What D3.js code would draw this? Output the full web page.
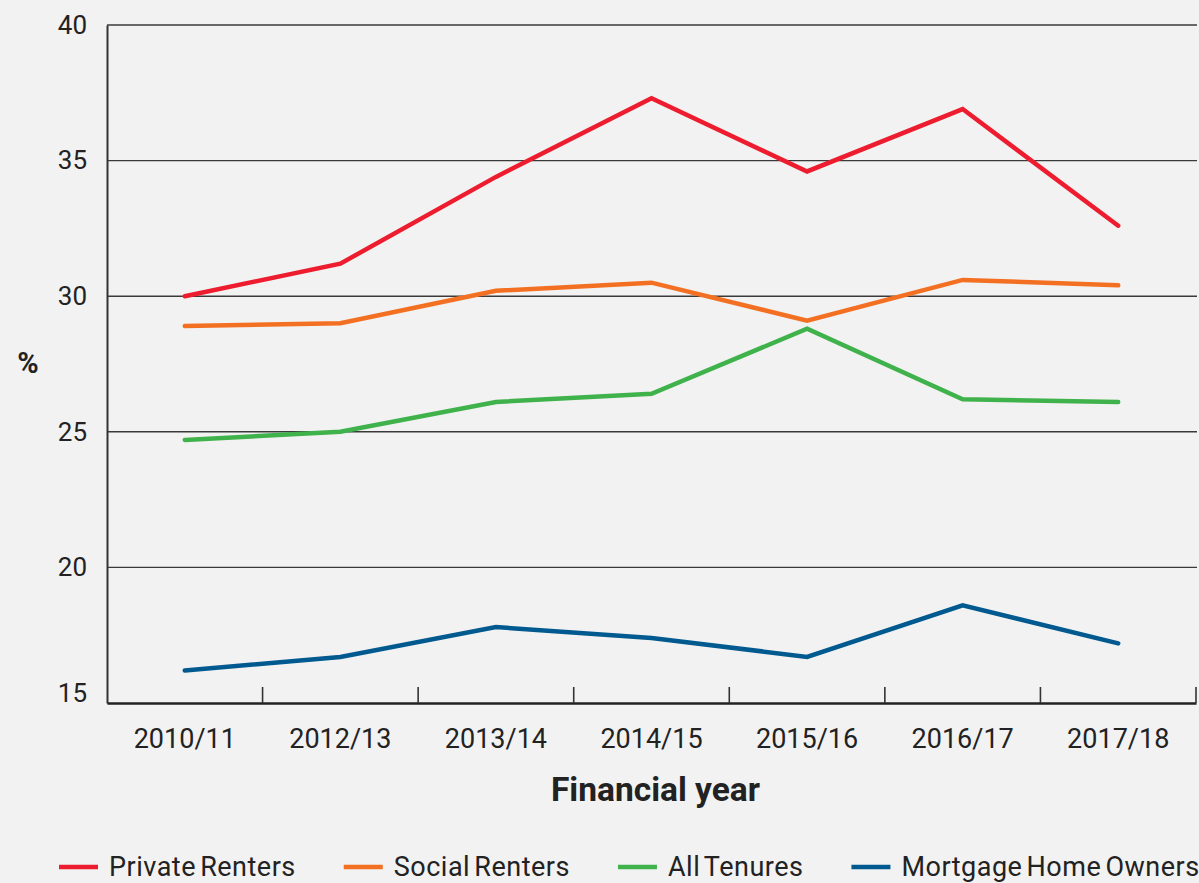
<!DOCTYPE html>
<html>
<head>
<meta charset="utf-8">
<script src="https://cdn.jsdelivr.net/npm/d3@7"></script>
<style>
  html, body { margin: 0; padding: 0; background: #f2f2f2; }
  svg { display: block; font-family: Roboto, "Noto Sans", sans-serif; }
</style>
</head>
<body>
<svg id="chart" width="1199" height="883"></svg>
<script>
// Financial years on the x axis
const years = ["2010/11", "2012/13", "2013/14", "2014/15", "2015/16", "2016/17", "2017/18"];

// Percentages by tenure type
const privateRenters = [30.0, 31.2, 34.4, 37.3, 34.6, 36.9, 32.6];
const socialRenters = [28.9, 29.0, 30.2, 30.5, 29.1, 30.6, 30.4];
const allTenures = [24.7, 25.0, 26.1, 26.4, 28.8, 26.2, 26.1];
const mortgageOwners = [16.2, 16.7, 17.8, 17.4, 16.7, 18.6, 17.2];

const seriesNames = ["Private Renters", "Social Renters", "All Tenures", "Mortgage Home Owners"];
const seriesColors = ["#ed1c2e", "#f37022", "#3fb24b", "#00598f"];
const yTicks = [15, 20, 25, 30, 35, 40];

const series = [privateRenters, socialRenters, allTenures, mortgageOwners].map((values, i) => ({
  name: seriesNames[i],
  color: seriesColors[i],
  values: values.map((v, j) => ({ year: years[j], value: v }))
}));

const svg = d3.select("#chart");
const plotLeft = 107, plotRight = 1196, plotTop = 25, plotBottom = 703;

const x = d3.scaleBand().domain(years).range([plotLeft, plotRight]).paddingInner(0).paddingOuter(0);
const y = d3.scaleLinear().domain([15, 40]).range([plotBottom, plotTop]);
const cx = d => x(d) + x.bandwidth() / 2;

// Horizontal gridlines
svg.append("g")
  .selectAll("line")
  .data(yTicks.filter(t => t > 15))
  .join("line")
  .attr("x1", plotLeft).attr("x2", plotRight + 1)
  .attr("y1", d => y(d)).attr("y2", d => y(d))
  .attr("stroke", "#3a3a3a")
  .attr("stroke-width", 1.4);

// Y axis: line plus labels
const yAxis = svg.append("g")
  .attr("transform", `translate(${plotLeft},0)`)
  .call(d3.axisLeft(y).tickValues(yTicks).tickSize(0).tickPadding(20));
yAxis.select(".domain").attr("stroke", "#333").attr("stroke-width", 2);
yAxis.selectAll("text")
  .attr("font-size", 26)
  .attr("fill", "#222")
  .attr("font-family", "Roboto, sans-serif");
// the bottom label sits just above the baseline
yAxis.selectAll(".tick").filter(d => d === 15).select("text").attr("dy", "0.32em").attr("y", -10);

// X axis: baseline with inward ticks at band boundaries
const xAxis = svg.append("g")
  .attr("transform", `translate(0,${plotBottom})`)
  .call(d3.axisBottom(x).tickSize(0).tickPadding(26));
xAxis.select(".domain").attr("stroke", "#222").attr("stroke-width", 2.5);
xAxis.selectAll("text")
  .attr("font-size", 27)
  .attr("fill", "#222")
  .attr("font-family", "Roboto, sans-serif");

svg.append("g")
  .selectAll("line")
  .data(years)
  .join("line")
  .attr("x1", d => x(d) + x.bandwidth()).attr("x2", d => x(d) + x.bandwidth())
  .attr("y1", plotBottom).attr("y2", plotBottom - 16)
  .attr("stroke", "#333")
  .attr("stroke-width", 1.6);

// Axis titles
svg.append("text")
  .attr("x", (plotLeft + plotRight) / 2 + 4)
  .attr("y", 801)
  .attr("text-anchor", "middle")
  .attr("font-size", 33.5)
  .attr("font-weight", "bold")
  .attr("fill", "#222")
  .text("Financial year");

svg.append("text")
  .attr("x", 28)
  .attr("y", 373)
  .attr("text-anchor", "middle")
  .attr("font-size", 29)
  .attr("font-weight", "bold")
  .attr("fill", "#222")
  .text("%");

// Series lines
const line = d3.line()
  .x(d => cx(d.year))
  .y(d => y(d.value));

svg.append("g")
  .selectAll("path")
  .data(series)
  .join("path")
  .attr("d", d => line(d.values))
  .attr("fill", "none")
  .attr("stroke", d => d.color)
  .attr("stroke-width", 4.5)
  .attr("stroke-linecap", "round")
  .attr("stroke-linejoin", "miter");

// Legend along the bottom
const legend = svg.append("g");
let lx = 59;
series.forEach(s => {
  const item = legend.append("g");
  item.append("line")
    .attr("x1", lx).attr("x2", lx + 39)
    .attr("y1", 867).attr("y2", 867)
    .attr("stroke", s.color)
    .attr("stroke-width", 4.5);
  const t = item.append("text")
    .attr("x", lx + 50)
    .attr("y", 876)
    .attr("font-size", 27)
    .attr("letter-spacing", 0.5)
    .attr("word-spacing", -3)
    .attr("fill", "#222")
    .text(s.name);
  lx = lx + 50 + t.node().getComputedTextLength() + 48;
});
</script>
</body>
</html>
